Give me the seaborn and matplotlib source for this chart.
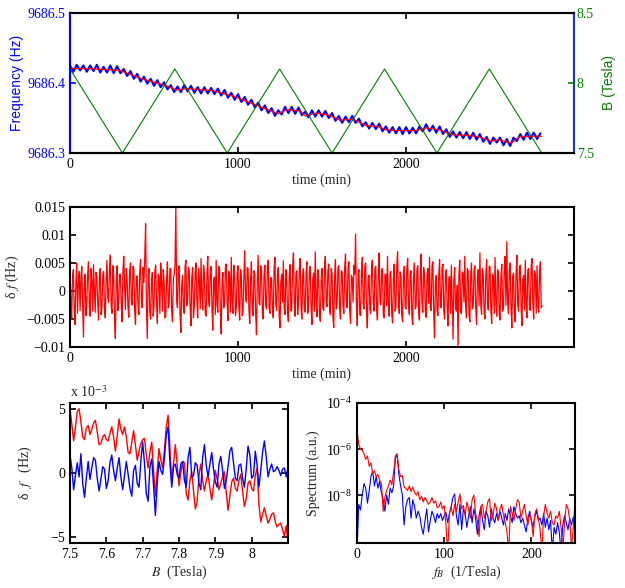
import matplotlib
matplotlib.use("Agg")
import matplotlib.pyplot as plt
from matplotlib.ticker import FixedLocator, FuncFormatter, NullLocator, LogFormatterMathtext
import numpy as np
import seaborn as sns

# --- top panel: frequency drift (Hz) and field sweep (Tesla) ---
FREQ_BASE = 9686.3
t_blue = np.arange(0, 2801, 20)
freq_blue_mhz = [
    125, 116, 126, 118, 125, 116, 125, 117, 126, 115, 123, 115, 125, 114, 124,
    114, 120, 110, 117, 106, 113, 102, 109, 99, 106, 96, 104, 94, 101, 91,
    97, 87, 95, 87, 97, 88, 96, 86, 94, 85, 94, 85, 93, 84, 92,
    82, 90, 79, 86, 76, 84, 73, 80, 69, 76, 65, 72, 61, 68, 57,
    64, 53, 61, 55, 66, 57, 66, 56, 65, 54, 59, 51, 61, 52, 61,
    52, 60, 50, 57, 46, 53, 43, 52, 44, 53, 43, 49, 38, 44, 35,
    43, 34, 42, 31, 38, 29, 37, 28, 37, 27, 37, 28, 36, 28, 38,
    31, 41, 31, 39, 29, 38, 27, 34, 23, 31, 22, 30, 21, 30, 20,
    29, 19, 27, 16, 23, 13, 22, 15, 22, 11, 20, 10, 22, 17, 27,
    19, 29, 20, 29, 20, 28,
]
t_smooth = [0, 150, 297, 415, 575, 635, 695, 853, 972, 1091, 1240, 1290, 1370,
            1400, 1470, 1545, 1605, 1684, 1763, 1832, 1882, 1961, 2060, 2120,
            2199, 2278, 2377, 2437, 2506, 2555, 2625, 2674, 2753, 2808]
freq_smooth_mhz = [121, 120, 118, 107, 96, 90, 92, 89, 81, 70, 56, 62, 60,
                   53, 57, 54, 47, 48, 39, 38, 33, 32, 32, 36,
                   33, 26, 25, 23, 17, 19, 14, 23, 24, 24]
t_field = [0, 312, 624, 936, 1248, 1560, 1872, 2184, 2496, 2808]
b_field = [8.1, 7.5, 8.1, 7.5, 8.1, 7.5, 8.1, 7.5, 8.1, 7.5]

# --- middle panel: residual delta f, units of 1e-4 Hz, every 5 min ---
t_resid = np.arange(0, 2811, 5)
resid_1e4 = [
    42, -18, -51, 26, 38, -33, -60, 15, 50, -40, 12, 35, -35, 22, 44, -25, -82, 10, 30, -44,
    -20, 30, 52, -28, -45, 40, 18, -36, 47, 5, -38, 33, 25, -20, -52, 24, 40, -42, -30, 28,
    35, -30, -48, 20, 55, -12, -20, 38, 64, -26, -40, 45, 28, -50, -85, 16, 45, -35, -15, 30,
    30, -22, -55, 36, 62, 8, -33, 40, 20, -28, -47, 34, 50, -18, -25, 44, 38, -36, -60, 25,
    27, -26, -42, 35, 56, -14, -30, 42, 15, 60, 120, -30, -85, 24, 40, -38, -50, 12, 33, -45,
    -28, 36, 46, -20, -58, 30, 24, -40, 50, 16, -36, 38, 18, -48, -44, 22, 52, -30, -22, 40,
    40, -35, -55, 20, 30, 45, 150, -20, -30, 38, 45, -42, -74, 10, 28, -30, -40, 44, 55, -26,
    -18, 42, 36, -30, -62, 25, 42, -48, -26, 34, 50, -15, -48, 40, 20, -32, 58, -10, -34, 46,
    30, -40, -45, 28, 62, -18, -28, 36, 44, -30, -70, 20, 25, -42, 55, -25, -38, 44, 40, -36,
    -77, 14, 33, -30, -22, 42, 48, -16, -53, 35, 26, -38, 60, -20, -40, 46, 35, -44, -30, 32,
    45, -28, -52, 38, 28, -44, -36, 26, 72, -12, -20, 42, 40, -34, -58, 20, 52, -30, -44, 36,
    30, -40, -78, 18, 64, -22, -25, 45, 38, -38, -50, 30, 46, -26, -32, 44, 55, -30, -40, 24,
    22, -34, -48, 40, 60, -24, -35, 30, 42, -44, -66, 16, 30, -20, 54, -30, -42, 38, 25, -40,
    -55, 26, 47, -36, -30, 44, 68, -18, -45, 32, 36, -42, -20, 40, 58, -26, -50, 30, 40, -35,
    -38, 30, 52, -40, -26, 36, 44, -28, -60, 22, 32, -36, 70, -14, -46, 38, 28, -42, -54, 20,
    40, -30, -35, 44, 62, -20, -28, 36, 48, -34, -42, 40, 30, -46, -65, 25, 56, -32, -24, 42,
    45, -30, -50, 36, 34, -26, -40, 42, 66, -18, -30, 40, 52, -36, -58, 28, 24, -20, 46, 30,
    102, -25, -62, 30, 38, -42, -44, 34, 60, -24, -32, 44, 50, -38, -66, 22, 28, -34, -40, 45,
    55, -22, -36, 40, 44, -34, -52, 28, 68, -20, -25, 38, 40, -42, -48, 30, 30, -26, 62, -30,
    -45, 32, 35, -40, -57, 20, 48, -36, -30, 44, 70, -18, -40, 34, 26, -46, -55, 30, 44, -28,
    -32, 40, 58, -26, -42, 30, 36, -44, -60, 24, 50, -32, -28, 38, 45, -40, -52, 26, 66, -20,
    -38, 42, 30, -36, -47, 28, 40, -22, 60, -30, -35, 46, 52, -40, -84, 14, 28, -36, -44, 30,
    56, -24, -30, 42, 48, -36, -50, 30, 38, -28, -62, 24, 26, -40, 46, -20, -86, 20, 42, -30,
    -36, 10, -100, 30, 55, -36, -40, 34, 32, -20, 62, -28, -48, 40, 36, -42, -55, 28, 50, -32,
    -28, 36, 45, -30, -60, 22, 38, -26, 68, -24, -42, 40, 30, -38, -50, 28, 56, -20, -34, 44,
    44, -32, -58, 30, 26, -40, 60, -22, -45, 38, 35, -42, -52, 24, 48, -36, -30, 40, 62, -26,
    88, -20, -40, 36, 50, -30, -66, 26, 32, -38, -55, 30, 64, -24, -36, 42, 46, -28, -62, 20,
    28, -34, 55, -26, -48, 38, 40, -30, -35, 44, 58, -22, -50, 36, 30, -40, 45, -28, -38, 34,
    52, -30, -26,
]

# --- bottom left: delta f vs B, units of 1e-3 Hz, B step 0.005 T ---
b_axis = np.round(np.arange(7.5, 8.1001, 0.005), 3)
df_red_mhz = [
    5.0, 3.8, 2.5, 3.6, 4.8, 5.0, 4.0, 2.8, 2.6, 3.5, 3.7, 3.0, 3.4, 3.9, 4.1, 3.2,
    2.2, 2.3, 2.8, 3.0, 2.6, 2.5, 3.1, 3.6, 2.8, 1.7, 2.9, 4.2, 3.4, 3.0, 3.6, 2.8,
    1.6, 1.5, 2.4, 3.3, 2.2, 1.0, 1.7, 2.3, 2.6, 2.7, 1.4, 0.4, 1.6, 2.4, 0.2, -1.8,
    0.2, 1.9, 1.0, 0.4, 1.8, 3.6, 4.5, 2.0, -0.6, 0.8, 2.2, 0.6, -1.0, 0.0, 0.9, 0.8,
    -1.6, -2.1, -0.6, 0.1, -1.4, -2.8, -2.2, -0.2, 0.7, -0.6, -1.4, -0.6, -0.1, -1.2,
    -2.1, -1.0, 0.2, -0.5, -1.3, -0.8, -0.3, 0.1, -1.5, -2.9, -1.8, -0.7, -0.4, -1.2,
    -1.4, -0.6, -0.1, -1.4, -2.6, -2.0, -0.8, -0.6, -1.2, -1.4, -0.2, 0.4, -2.5, -3.8,
    -3.2, -2.7, -3.3, -3.9, -3.6, -3.2, -3.1, -3.8, -4.2, -4.0, -3.9, -4.4, -4.9, -4.1,
    -5.4,
]
df_blue_mhz = [
    1.4, 0.4, -1.3, -0.2, 0.8, -0.3, 1.5, -0.8, -1.9, -0.4, 0.9, -0.5, 0.4, 1.2, 1.0,
    -0.4, -1.4, -0.5, 0.5, 0.3, -1.2, -0.6, 0.8, 1.4, 0.2, -0.6, 0.4, 1.2, -0.3, -1.3,
    -0.2, 0.9, -0.1, -1.2, -1.8, 0.2, 0.6, -0.8, -1.1, 0.9, 2.4, 0.8, -1.6, -2.2, 0.5,
    1.1, -1.0, -3.3, -0.8, 0.9, 0.2, -0.1, 1.2, 3.0, 3.6, 0.8, -1.1, 0.5, 0.7, -0.1,
    -0.4, 0.7, 0.9, -0.6, -1.1, 1.2, 2.0, -0.3, -0.2, 0.8, 0.6, -0.8, -1.3, 1.2, 2.2,
    0.6, -0.3, 0.7, 1.6, 0.3, -0.7, -1.1, 0.7, 1.3, 0.2, -1.2, -0.6, 0.5, 1.7, 2.0,
    0.8, -0.4, -0.6, 0.6, 0.7, -0.4, -1.1, 0.3, 2.1, 1.4, -0.4, -0.2, 1.7, 0.6, -1.1,
    0.2, 1.6, 2.5, 1.3, -0.3, 0.3, 0.7, 0.1, 0.2, 0.5, 0.2, -0.2, 0.3, 0.4, -0.3, 0.4,
]

# --- bottom right: spectrum, log10 values, f step 2 1/T ---
f_spec = np.arange(0, 251, 2)
spec_red_log = [
    -5.2, -5.8, -6.0, -6.05, -6.2, -6.45, -6.3, -6.75, -6.6, -7.05, -6.95, -7.2, -7.1,
    -7.35, -7.5, -8.7, -8.1, -7.8, -7.6, -7.35, -7.55, -7.0, -6.3, -6.2, -6.9, -7.2,
    -7.15, -7.65, -7.7, -7.8, -7.6, -7.85, -7.65, -7.9, -8.0, -7.85, -8.2, -8.05, -8.3,
    -8.1, -8.25, -8.4, -8.3, -8.1, -8.35, -8.25, -8.55, -8.5, -8.3, -8.6, -8.45, -9.3,
    -10.5, -8.8, -8.5, -8.9, -8.4, -8.7, -8.3, -7.95, -8.6, -8.45, -8.9, -8.3, -8.6,
    -9.0, -8.2, -8.0, -8.8, -9.1, -9.8, -8.5, -8.4, -9.0, -8.7, -8.3, -8.15, -9.1, -8.9,
    -8.35, -8.6, -9.1, -8.6, -8.4, -8.9, -9.2, -9.6, -10.5, -8.5, -8.8, -9.1, -8.6,
    -8.2, -8.3, -9.0, -8.7, -8.4, -8.9, -9.3, -8.8, -9.1, -9.8, -8.8, -8.6, -9.0, -9.5,
    -10.5, -8.9, -8.4, -8.8, -9.0, -8.7, -9.2, -9.3, -8.9, -9.0, -8.7, -9.4, -10.5,
    -9.2, -8.4, -8.6, -9.1, -10.3, -9.4, -8.3,
]
spec_blue_log = [
    -10.5, -8.4, -8.65, -8.0, -7.5, -7.7, -8.35, -7.8, -7.2, -6.95, -7.6, -7.2, -7.7,
    -7.4, -7.9, -8.2, -8.7, -8.0, -8.4, -7.7, -7.9, -7.6, -6.4, -6.25, -7.1, -7.6,
    -8.0, -9.3, -8.5, -8.2, -8.1, -9.0, -8.2, -8.5, -9.0, -8.7, -8.9, -9.4, -9.7, -9.1,
    -8.6, -9.6, -9.1, -8.7, -8.9, -9.2, -8.8, -9.0, -8.8, -9.1, -8.9, -8.75, -9.2,
    -8.8, -8.5, -8.1, -7.95, -8.9, -9.3, -8.4, -9.5, -8.6, -8.8, -9.4, -8.9, -8.5,
    -9.2, -8.6, -9.0, -9.7, -8.9, -8.5, -9.1, -9.5, -8.7, -8.9, -9.4, -8.6, -9.0, -9.2,
    -8.8, -9.1, -8.7, -9.0, -9.3, -8.8, -9.1, -8.6, -8.9, -9.2, -8.5, -8.8, -9.0, -8.9,
    -9.2, -9.0, -9.3, -9.6, -9.0, -8.7, -9.1, -9.4, -8.9, -8.7, -9.1, -9.0, -9.3, -8.8,
    -9.4, -9.0, -9.5, -9.1, -10.5, -9.4, -9.7, -9.2, -9.6, -10.5, -9.3, -8.9, -9.2,
    -9.5, -9.0, -9.3, -8.95, -9.6,
]

BLUE = "#0000ff"
RED = "#ff0000"
GREEN = "#008000"


def g_fmt(v, pos=None):
    return f"{v:g}".replace("-", "\u2212")


sns.set_style("ticks")
plt.rcParams["font.family"] = ["Liberation Serif", "DejaVu Serif"]
plt.rcParams["mathtext.fontset"] = "stix"
plt.rcParams["font.size"] = 10
plt.rcParams["axes.linewidth"] = 1.5
plt.rcParams["xtick.direction"] = "in"
plt.rcParams["ytick.direction"] = "in"
plt.rcParams["xtick.major.size"] = 4
plt.rcParams["ytick.major.size"] = 4
plt.rcParams["xtick.major.width"] = 1.2
plt.rcParams["ytick.major.width"] = 1.2
plt.rcParams["axes.edgecolor"] = "black"
plt.rcParams["xtick.color"] = "black"
plt.rcParams["ytick.color"] = "black"
# keep every zigzag of the noisy traces
plt.rcParams["path.simplify"] = False

fig = plt.figure(figsize=(6.25, 5.88), dpi=100)

# ---- panel 1
ax1 = fig.add_axes([0.112, 0.7398, 0.8064, 0.2381])
sns.lineplot(x=t_blue, y=FREQ_BASE + np.array(freq_blue_mhz) / 1000.0, ax=ax1,
             color=BLUE, lw=1.5, estimator=None)
sns.lineplot(x=t_smooth, y=FREQ_BASE + np.array(freq_smooth_mhz) / 1000.0, ax=ax1,
             color=RED, lw=0.9, estimator=None)
ax1.set_xlim(0, 3000)
ax1.set_ylim(9686.3, 9686.5)
ax1.yaxis.set_major_locator(FixedLocator([9686.3, 9686.4, 9686.5]))
ax1.yaxis.set_major_formatter(FuncFormatter(lambda v, p: f"{v:.1f}"))
ax1.xaxis.set_major_locator(FixedLocator([0, 1000, 2000]))
ax1.tick_params(axis="x", top=True)
ax1.tick_params(axis="y", colors=BLUE, labelcolor=BLUE)
ax1.spines["left"].set_color(BLUE)
ax1.spines["right"].set_color("#1f3f9f")
ax1.set_ylabel("Frequency (Hz)", color=BLUE, family=["Liberation Sans"], labelpad=2)
ax1.set_xlabel("time (min)", labelpad=2)

ax1b = ax1.twinx()
sns.lineplot(x=t_field, y=b_field, ax=ax1b, color=GREEN, lw=0.8, estimator=None)
ax1b.set_ylim(7.5, 8.5)
ax1b.yaxis.set_major_locator(FixedLocator([7.5, 8.0, 8.5]))
ax1b.yaxis.set_major_formatter(FuncFormatter(g_fmt))
ax1b.tick_params(axis="y", colors=GREEN, labelcolor=GREEN, pad=2)
ax1b.spines["right"].set_color("#1f3f9f")
ax1b.spines["left"].set_color(BLUE)
ax1b.set_ylabel("B (Tesla)", color=GREEN, family=["Liberation Sans"], labelpad=6)

# ---- panel 2
ax2 = fig.add_axes([0.112, 0.4099, 0.8064, 0.2381])
sns.lineplot(x=t_resid, y=np.array(resid_1e4) * 1e-4, ax=ax2, color=RED, lw=0.9,
             estimator=None)
ax2.set_xlim(0, 3000)
ax2.set_ylim(-0.01, 0.015)
ax2.yaxis.set_major_locator(FixedLocator([-0.01, -0.005, 0, 0.005, 0.01, 0.015]))
ax2.yaxis.set_major_formatter(FuncFormatter(g_fmt))
ax2.xaxis.set_major_locator(FixedLocator([0, 1000, 2000]))
ax2.tick_params(top=True, right=True)
ax2.set_ylabel("\u03b4 $f$ (Hz)", labelpad=4)
ax2.set_xlabel("time (min)", labelpad=2)

# ---- panel 3
ax3 = fig.add_axes([0.112, 0.0765, 0.3488, 0.2381])
sns.lineplot(x=b_axis, y=df_red_mhz, ax=ax3, color=RED, lw=1.0, estimator=None)
sns.lineplot(x=b_axis, y=df_blue_mhz, ax=ax3, color=BLUE, lw=1.0, estimator=None)
ax3.set_xlim(7.5, 8.1)
ax3.set_ylim(-5.45, 5.45)
ax3.xaxis.set_major_locator(FixedLocator([7.5, 7.6, 7.7, 7.8, 7.9, 8.0]))
ax3.xaxis.set_major_formatter(FuncFormatter(g_fmt))
ax3.yaxis.set_major_locator(FixedLocator([-5, 0, 5]))
ax3.yaxis.set_major_formatter(FuncFormatter(g_fmt))
ax3.tick_params(top=True, right=True)
ax3.text(0.0, 1.02, "x 10$^{-3}$", transform=ax3.transAxes, ha="left", va="bottom")
ax3.set_ylabel("\u03b4  $f$   (Hz)", labelpad=12)
ax3.set_xlabel("$B$  (Tesla)", labelpad=2)

# ---- panel 4
ax4 = fig.add_axes([0.5712, 0.0765, 0.3488, 0.2381])
sns.lineplot(x=f_spec, y=10.0 ** np.array(spec_blue_log), ax=ax4, color=BLUE, lw=0.8,
             estimator=None)
sns.lineplot(x=f_spec, y=10.0 ** np.array(spec_red_log), ax=ax4, color=RED, lw=0.8,
             estimator=None)
ax4.set_yscale("log")
ax4.set_xlim(0, 250)
ax4.set_ylim(8.3e-11, 1e-4)
ax4.yaxis.set_major_locator(FixedLocator([1e-8, 1e-6, 1e-4]))
ax4.yaxis.set_major_formatter(LogFormatterMathtext())
ax4.yaxis.set_minor_locator(NullLocator())
ax4.xaxis.set_major_locator(FixedLocator([0, 100, 200]))
ax4.tick_params(top=True, right=True)
ax4.set_ylabel("Spectrum (a.u.)", labelpad=4)
ax4.set_xlabel("$f_B$  (1/Tesla)", labelpad=2)

fig.savefig("out.png", dpi=100)
